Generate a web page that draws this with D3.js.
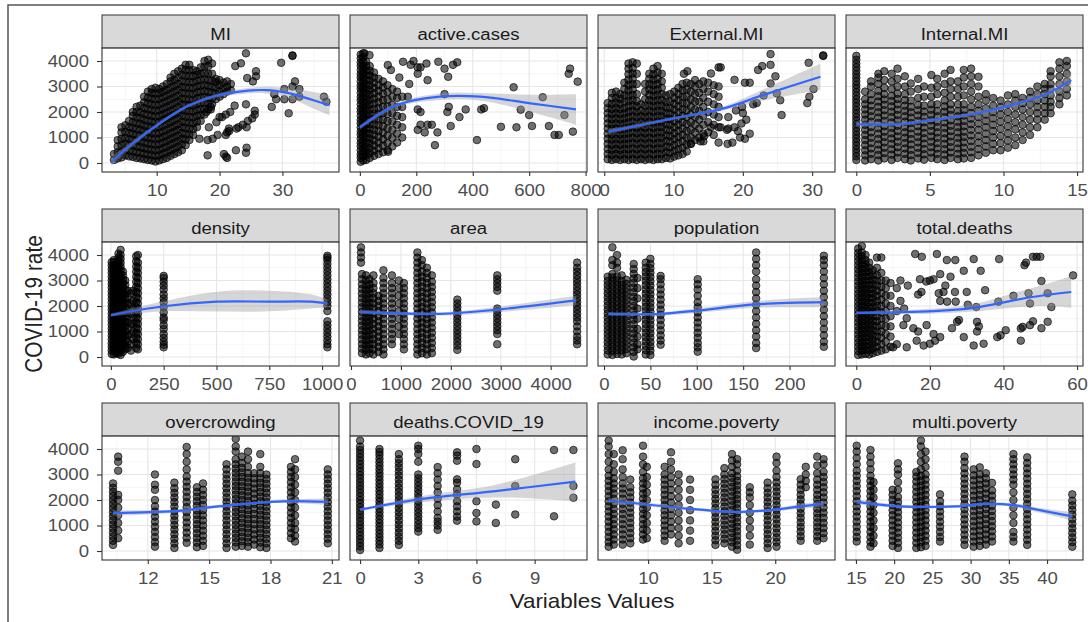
<!DOCTYPE html>
<html>
<head>
<meta charset="utf-8">
<script src="https://cdn.jsdelivr.net/npm/d3@7"></script>
<style>
  body { margin: 0; background: #fff; }
  text { font-family: "Liberation Sans", Arial, sans-serif; }
</style>
</head>
<body>
<script>
// ---- data ----
var facetNames = ["MI", "active.cases", "External.MI", "Internal.MI",
                  "density", "area", "population", "total.deaths",
                  "overcrowding", "deaths.COVID_19", "income.poverty", "multi.poverty"];

var xDomains = [[1.3, 39], [-35, 805], [-0.9, 33.3], [-0.7, 15.4],
                [-42, 1080], [-20, 4728], [-6.5, 249], [-2.8, 61.6],
                [9.76, 21.35], [-0.52, 11.7], [6.06, 24.7], [13.7, 44.7]];

var xTicks = [[10, 20, 30], [0, 200, 400, 600, 800], [0, 10, 20, 30], [0, 5, 10, 15],
              [0, 250, 500, 750, 1000], [0, 1000, 2000, 3000, 4000], [0, 50, 100, 150, 200], [0, 20, 40, 60],
              [12, 15, 18, 21], [0, 3, 6, 9], [10, 15, 20], [15, 20, 25, 30, 35, 40]];

var yTicks = [0, 1000, 2000, 3000, 4000];

// points: [x, [y, y, ...]]
var miPts = [
[3.2,[120,350]],[3.8,[180,420,650,900]],[4.4,[220,450,700,950,1200,1400]],[5.0,[300,520,760,980,1220,1480]],
[5.6,[260,480,720,940,1180,1400,1650]],[6.2,[240,460,690,910,1150,1370,1600,1850,2000]],
[6.8,[200,420,650,880,1100,1330,1560,1790,2000,2200]],[7.4,[180,400,620,850,1080,1300,1530,1760,1980,2250]],
[8.0,[150,360,580,800,1020,1250,1470,1700,1930,2150,2380,2600]],
[8.6,[120,330,550,770,990,1210,1440,1660,1890,2110,2340,2560,2800]],
[9.2,[100,310,520,740,960,1180,1400,1630,1850,2080,2300,2530,2750,2900]],
[9.8,[60,280,500,720,940,1160,1380,1600,1820,2050,2270,2500,2720,2950]],
[10.4,[100,300,520,740,960,1180,1400,1620,1850,2070,2290,2520,2740,2900]],
[11.0,[150,360,580,800,1020,1240,1460,1690,1910,2130,2360,2580,2800,3000]],
[11.6,[200,420,640,860,1080,1300,1530,1750,1970,2200,2420,2650,2870,3100]],
[12.2,[280,500,720,940,1160,1380,1600,1830,2050,2270,2500,2720,2950,3200,3350]],
[12.8,[350,570,790,1010,1230,1450,1680,1900,2120,2350,2570,2800,3020,3250,3500]],
[13.4,[420,640,860,1080,1300,1520,1750,1970,2190,2420,2640,2870,3100,3350,3600]],
[14.0,[500,730,950,1170,1400,1620,1850,2070,2300,2520,2750,2980,3200,3450,3700]],
[14.6,[700,920,1140,1370,1600,1820,2050,2280,2500,2730,2960,3190,3420,3650,3850]],
[15.2,[900,1120,1350,1580,1800,2030,2260,2490,2720,2950,3180,3410,3640,3850]],
[15.8,[1100,1330,1560,1790,2020,2250,2480,2710,2940,3170,3400,3650]],
[16.4,[1400,1620,1850,2080,2310,2540,2770,3000,3230,3460,3600]],
[17.0,[1650,1880,2110,2340,2570,2800,3030,3260,3500,3750]],
[17.6,[1900,2130,2360,2590,2820,3050,3280,3520,3780,4000]],
[18.2,[2100,2330,2560,2790,3020,3250,3500,3800,4050]],
[18.8,[2300,2530,2760,2990,3220,3500,3900]],[19.4,[2500,2720,2950,3180,3300]],
[20.0,[2600,2820,3050,3250,1800]],[20.6,[2700,2920,3150]],[21.2,[2800,3000,3200,1200,200]],[21.8,[2850,3100]],
[16.8,[950]],[17.9,[2000]],[18.6,[2100,2200]],[18.3,[1400]],[19.5,[1600]],[18.9,[950]],[18.1,[900,300]],
[19.7,[1100]],[21.0,[1100,1900,250]],[21.5,[1250,1350]],[20.7,[350]],[20.4,[1800]],[21.7,[2000]],
[22.4,[2250]],[22.6,[500]],[22.7,[1350]],[23.0,[1400]],[23.7,[1500]],[24.3,[1400,600]],[24.2,[400,2300,4300]],
[24.5,[1650]],[25.2,[1750]],[25.6,[1900,2050]],[23.4,[3910]],[22.5,[3800]],[24.4,[3330]],[25.8,[3400,3600]],
[25.3,[3200]],[28.3,[2200]],[28.7,[2700]],[29.0,[2500]],[29.8,[3930]],[30.3,[2500,2900]],[31.0,[1950]],
[31.6,[2500,3000,4200,4220]],[32.0,[3200]],[32.7,[2600,2900]],[36.6,[2600]],[37.0,[2400]]
];

var acPts = [
[3,[50,210,340,500,660,790,950,1110,1240,1400,1560,1690,1850,2010,2140,2300,2460,2590,2750,2910,3040,3200,3360,3490,3650,3810,3940,4100,4250]],
[12,[100,260,410,560,720,870,1030,1180,1340,1490,1650,1800,1960,2110,2270,2420,2580,2730,2890,3040,3200,3350,3510,3660,3820,3970,4150,4300]],
[22,[120,300,470,640,820,990,1170,1340,1520,1690,1870,2040,2220,2390,2570,2740,2920,3090,3270,3440,3620,3800,3980]],
[35,[200,390,580,770,960,1150,1340,1530,1720,1910,2100,2290,2480,2670,2860,3050,3240,3430,3620,3800]],
[50,[280,480,690,890,1100,1300,1510,1710,1920,2120,2330,2530,2740,2940,3150,3350,3550]],
[66,[350,580,800,1030,1250,1480,1700,1930,2150,2380,2600,2830,3050,3300]],
[82,[420,680,930,1190,1440,1700,1950,2210,2460,2720,2970,3200]],
[98,[500,780,1070,1350,1640,1920,2210,2490,2780,3050]],
[115,[650,980,1300,1630,1950,2280,2600,2900]],
[132,[800,1150,1500,1850,2200,2550,2800]],
[150,[1000,1400,1800,2200,2600]],
[16,[4300]],[34,[4230]],[99,[3840]],[110,[3650]],[153,[3970]],[180,[3850]],[190,[4000]],
[205,[3750,3500,2100,1300]],[215,[3750,2000,1500]],[236,[3900]],[278,[3970]],[300,[3700,2700]],
[313,[3380]],[330,[3850]],[345,[3950]],[240,[3250,1500]],[230,[1200]],[140,[3350]],[545,[2970]],
[648,[2580]],[740,[3500]],[745,[3700]],[772,[3190]],[725,[1880]],[755,[1230]],[690,[1100]],[705,[1100]],
[670,[1450]],[610,[1450]],[600,[1880]],[570,[2090]],[555,[1400]],[500,[1420]],[415,[900]],[430,[2100]],
[440,[2150]],[353,[1800]],[375,[2100]],[322,[1450]],[310,[2000]],[315,[2200]],[275,[1200]],[266,[700]],
[255,[1500]],[100,[440]],[170,[2600]],[175,[3100]]
];

var emPts = [
[0.5,[150,350,550,750,950,1150,1350,1550,1750,1950,2150,2350]],
[1.1,[120,320,520,720,920,1120,1320,1520,1720,1920,2120,2320,2550,2750]],
[1.7,[150,350,550,750,950,1150,1350,1550,1750,1950,2150,2350,2550,2800]],
[2.3,[120,320,520,720,920,1120,1320,1520,1720,1920,2120,2320,2520,2700]],
[2.9,[150,350,550,750,950,1150,1350,1550,1750,1950,2150,2400,2650,2900,3150]],
[3.5,[120,330,540,750,960,1170,1380,1590,1800,2010,2220,2430,2640,2850,3060,3270,3480,3700,3900]],
[4.1,[150,360,570,780,990,1200,1410,1620,1830,2040,2250,2460,2670,2880,3090,3300,3510,3720,3950]],
[4.7,[120,330,540,750,960,1170,1380,1590,1800,2010,2220,2430,2700,3100,3500,3900]],
[5.3,[150,360,570,780,990,1200,1410,1620,1830,2050,2300]],
[5.9,[120,330,540,750,960,1170,1380,1590,1800,2010,2250,2500,2800,3100]],
[6.5,[150,360,570,780,990,1200,1410,1620,1830,2040,2250,2460,2670,2880,3090,3300,3500]],
[7.1,[120,330,540,750,960,1170,1380,1590,1800,2010,2220,2430,2640,2850,3060,3270,3480,3700]],
[7.7,[150,360,570,780,990,1200,1410,1620,1830,2040,2250,2460,2670,2880,3090,3300,3550,3800]],
[8.3,[150,360,570,780,990,1200,1410,1620,1830,2040,2250,2460,2700,2950,3200,3500]],
[8.9,[200,420,640,860,1080,1300,1520,1740,1960,2180,2400,2650]],
[9.5,[180,400,620,840,1060,1280,1500,1720,1940,2160,2400,2700]],
[10.1,[250,480,710,940,1170,1400,1630,1860,2090,2320,2550,2800]],
[10.7,[300,540,780,1020,1260,1500,1740,1980,2220,2460,2700,2950]],
[11.3,[350,600,850,1100,1350,1600,1850,2100,2350,2600,2850,3100]],
[11.9,[450,720,990,1260,1530,1800,2070,2340,2610,2880,3150]],
[12.5,[750,1000,1300,1600,1900,2200,2500,2800,3100]],
[13.1,[900,1200,1500,1800,2100,2400,2700,3000,3250]],
[13.7,[1000,1350,1700,2050,2400,2750,3100]],
[14.3,[850,1150,1500,1850,2200,2550,2900,3200]],
[15.0,[1200,1600,2000,2400,2800,3150]],
[15.8,[1100,1500,1900,2300,2700,3050]],
[16.5,[1400,1800,2200,2600,3000,3750,800]],
[24,[4270,3850,3120]],[31.6,[4200,4220]],[29.5,[3930]],[22.2,[3650]],[22.8,[3800]],[24.7,[3400]],
[20.3,[3150,950]],[21,[3150,1150]],[18.8,[3260,1400]],[16.8,[3750,1400]],[15.4,[3510,1400]],[12,[3600]],
[11.5,[3500]],[24.9,[2730]],[23,[2650]],[25.4,[2460]],[22,[2350]],[29.3,[2350]],[29.6,[2600]],[30.2,[2900]],
[25.6,[1880]],[20,[1960]],[20.5,[1700]],[19.3,[1250]],[19.8,[1550]],[17.9,[1350,1800]],[19.6,[1000]],
[17.8,[750]],[18.5,[800]],[17.7,[1300]],[13.9,[850]],[14.4,[1050]],[12.5,[750]],[19,[2060]],[19.9,[2200]],
[21.5,[2300]]
];

var imPts = [
[0,[120,260,400,540,680,820,960,1100,1240,1380,1520,1660,1800,1940,2080,2220,2360,2500,2640,2780,2920,3060,3200,3340,3480,3620,3760,3900,4050,4200]],
[0.6,[100,300,500,700,900,1100,1300,1500,1700,1900,2100,2300,2500,2800]],
[1.0,[150,360,570,780,990,1200,1410,1620,1830,2040,2250,2460,2700,3000,3200]],
[1.5,[100,310,520,730,940,1150,1360,1570,1780,1990,2200,2410,2620,2830,3100,3350,3500]],
[1.9,[180,390,600,810,1020,1230,1440,1650,1860,2070,2280,2490,2700,2950,3250,3600]],
[2.4,[120,330,540,750,960,1170,1380,1590,1800,2010,2220,2430,2640,2900,3200,3500]],
[2.8,[200,410,620,830,1040,1250,1460,1670,1880,2090,2300,2510,2720,3000,3300,3700]],
[3.3,[150,360,570,780,990,1200,1410,1620,1830,2040,2250,2460,2700,3000,3400]],
[3.7,[100,310,520,730,940,1150,1360,1570,1780,1990,2200,2450,2800,3120]],
[4.2,[180,390,600,810,1020,1230,1440,1650,1860,2070,2280,2550,2900,3300]],
[4.6,[130,340,550,760,970,1180,1390,1600,1810,2020,2250,2600,3000]],
[5.1,[200,410,620,830,1040,1250,1460,1670,1880,2090,2300,2600,2950,3450]],
[5.5,[150,360,570,780,990,1200,1410,1620,1830,2040,2300,2700,3000,3300]],
[6.0,[120,330,540,750,960,1170,1380,1590,1800,2010,2220,2450,2750,3100,3500]],
[6.4,[200,410,620,830,1040,1250,1460,1670,1880,2090,2300,2600,2900,3200,3650]],
[6.9,[150,360,570,780,990,1200,1410,1620,1830,2040,2300,2600,2900,3200]],
[7.3,[180,390,600,810,1020,1230,1440,1650,1860,2070,2300,2650,3000,3350,3650]],
[7.8,[200,420,640,860,1080,1300,1520,1740,1960,2200,2500,2800,3100,3400,3700]],
[8.3,[300,550,800,1050,1300,1550,1800,2050,2300,2600,3000,3380]],
[8.8,[400,650,900,1150,1400,1650,1900,2150,2450,2700]],
[9.3,[500,750,1000,1250,1500,1750,2000,2250,2550]],
[9.8,[500,780,1060,1340,1620,1900,2180,2450]],
[10.3,[600,880,1160,1440,1720,2000,2300,2650]],
[10.8,[700,1000,1320,1600,1900,2200,2450,2700]],
[11.3,[900,1200,1500,1800,2100,2350,2550]],
[11.8,[1100,1400,1700,2000,2300,2550,2800]],
[12.3,[1400,1700,1950,2200,2450,2700,3000]],
[12.8,[1700,1950,2200,2450,2700,2900,3100]],
[13.2,[1950,2200,2400,2650,2900,3100,3400,3600]],
[13.8,[2300,2550,2800,3100,3400,3700,3950]],
[14.3,[2650,2900,3200,3500,3800,4000]]
];

var dnPts = [
[4,[120,260,400,540,690,830,980,1120,1270,1410,1560,1700,1850,1990,2140,2280,2430,2570,2720,2860,3010,3150,3300,3440,3590,3720]],
[14,[100,240,380,530,670,820,960,1110,1250,1400,1540,1690,1830,1980,2120,2270,2410,2560,2700,2850,2990,3140,3280,3430,3570,3720,3800]],
[25,[150,290,430,580,720,870,1010,1160,1300,1450,1590,1740,1880,2030,2170,2320,2460,2610,2750,2900,3040,3190,3330,3480,3620]],
[36,[130,270,410,560,700,850,990,1140,1280,1430,1570,1720,1860,2010,2150,2300,2440,2590,2730,2880,3020,3170,3310,3460,3610,3750,3900,4050]],
[46,[80,220,360,510,650,800,940,1090,1230,1380,1520,1670,1810,1960,2100,2250,2390,2540,2680,2830,2970,3120,3260,3410,3550,3700,3850,4000,4200]],
[57,[200,350,500,650,800,950,1100,1250,1400,1550,1700,1850,2000,2150,2300,2450,2600,2750,2900,3050,3200,3350]],
[68,[300,480,660,840,1020,1200,1380,1560,1740,1920,2100,2280,2460,2640,2820,3000]],
[80,[350,600,850,1100,1350,1600,1850,2100,2350,2600]],
[95,[250,500,900,1300,1700,2100,2500]],
[105,[700,1000,1300,1600,1900,2200,2600]],
[120,[350,550,750,950,1150,1350,1550,1750,1950,2150,2350,2550,2750,2950,3150,3350,3550,3750,3950]],
[128,[300,500,700,900,1100,1300,1500,1700,1900,2100,2300,2500,2700,2900,3100,3300,3500,3700,4000]],
[250,[380,480,600,750,900,1100,1250,1450,1550,1750,1950,2150,2300,2450,2650,2800,2950,3100,3180]],
[1025,[380,500,650,800,950,1100,1250,1400,1800,2000,2150,2300,2450,2600,2750,2900,3050,3200,3350,3500,3650,3800,3900,3970]]
];

var arPts = [
[200,[3700,3900,4100,4300]],
[220,[150,330,510,690,870,1050,1230,1410,1590,1770,1950,2130,2310,2490,2670,2850,3050,3250]],
[300,[100,280,460,640,820,1000,1180,1360,1540,1720,1900,2080,2260,2440,2620,2800,3000,3200]],
[370,[150,330,510,690,870,1050,1230,1410,1590,1770,1950,2130,2310,2490,2670,2850,3050]],
[450,[100,300,500,700,900,1100,1300,1500,1700,1900,2100,2300,2500,2700,2900,3200]],
[550,[200,400,600,800,1000,1200,1400,1600,1800,2000,2200,2400]],
[650,[100,300,500,700,900,1100,1300,1500,1700,1900,2100,2300,2500,2700,2900,3100,3400]],
[820,[500,700,900,1100,1300,1500,1700,1900,2100,2300,2500,2700,2900,3200]],
[960,[900,1200,1500,1800,2100,2400,2700,3000]],
[1060,[300,500,700,900,1100,1300,1500,1700,1900,2100,2300,2500,2700,2900]],
[1330,[100,300,500,700,900,1100,1300,1500,1700,1900,2100,2300,2500,2700,2900,3100,3300,3500,3700,3900,4100]],
[1420,[150,350,550,750,950,1150,1350,1550,1750,1950,2150,2350,2550,2750,2950,3150,3350,3600,3800]],
[1520,[100,300,500,700,900,1100,1300,1500,1700,1900,2100,2300,2500,2700,2900,3100,3300,3500]],
[1620,[150,350,550,750,950,1150,1350,1550,1750,1950,2150,2350,2550,2750,2950,3200]],
[2130,[280,450,600,750,900,1050,1200,1350,1500,1650,1800,1950,2100,2250]],
[2930,[500,900,1050,1200,1350,1500,1650,1800,1900,2600,2750,2900,3050,3200]],
[4530,[500,650,800,1000,1200,1400,1550,1700,1850,2000,2150,2300,2450,2600,2750,2900,3050,3200,3350,3500,3700]]
];

var poPts = [
[4,[100,260,420,580,740,900,1060,1220,1380,1540,1700,1860,2020,2180,2340,2500,2660,2820,2980,3150]],
[9,[80,240,400,560,720,880,1040,1200,1360,1520,1680,1840,2000,2160,2320,2480,2640,2800,2960,3120,3250,3600,3800,4300]],
[14,[120,280,440,600,760,920,1080,1240,1400,1560,1720,1880,2040,2200,2360,2520,2680,2840,3000,3160,3500,3700,4000]],
[19,[100,260,420,580,740,900,1060,1220,1380,1540,1700,1860,2020,2180,2340,2500,2660,2820,2980,3200]],
[24,[150,310,470,630,790,950,1110,1270,1430,1590,1750,1910,2070,2230,2390,2550,2710,2870,3030]],
[32,[20,200,380,560,740,920,1100,1280,1460,1640,1820,2000,2180,2360,2540,2720,2900,3080,3260,3450,3650]],
[36,[300,500,800,1100,1500,1900,2300,2700,3100]],
[45,[100,270,440,610,780,950,1120,1290,1460,1630,1800,1970,2140,2310,2480,2650,2820,2990,3160,3330,3500,3700]],
[50,[80,250,420,590,760,930,1100,1270,1440,1610,1780,1950,2120,2290,2460,2630,2800,2970,3140,3310,3480,3650,3850]],
[61,[480,650,850,1050,1250,1450,1650,1850,2050,2250,2450,2650,2850,3050,3180]],
[101,[210,380,550,750,950,1150,1350,1550,1750,1950,2150,2400,2650,2850,3050]],
[164,[350,550,800,1050,1300,1550,1800,2050,2300,2550,2800,3050,3350,3600,3850,4100]],
[237,[400,600,850,1100,1350,1600,1850,2100,2350,2600,2850,3100,3350,3600,3800,3970]]
];

var tdPts = [
[0.5,[80,240,400,560,720,880,1040,1200,1360,1520,1680,1840,2000,2160,2320,2480,2640,2800,2960,3120,3280,3440,3600,3760,3920,4080,4250]],
[1.5,[100,260,420,580,740,900,1060,1220,1380,1540,1700,1860,2020,2180,2340,2500,2660,2820,2980,3140,3300,3460,3620,3780,3940,4100,4350]],
[2.5,[120,280,440,600,760,920,1080,1240,1400,1560,1720,1880,2040,2200,2360,2520,2680,2840,3000,3160,3320,3480,3640,3800,4000]],
[3.5,[100,270,440,610,780,950,1120,1290,1460,1630,1800,1970,2140,2310,2480,2650,2820,2990,3160,3330,3500,3700]],
[4.5,[150,330,510,690,870,1050,1230,1410,1590,1770,1950,2130,2310,2490,2670,2850,3030,3210,3400]],
[5.6,[200,400,600,800,1000,1200,1400,1600,1800,2000,2200,2400,2600,2800,3000,3200,3500,3900]],
[6.8,[250,500,750,1000,1250,1500,1750,2000,2250,2500,2750,3000,3300,3900]],
[8,[300,600,900,1200,1500,1800,2100,2400,2700,3000]],
[9.3,[400,800,1200,1600,2000,2400,2900]],
[16,[4040]],[17.8,[3930]],[21.9,[4040]],[24.6,[3800]],[26.9,[3800]],[31.9,[3840,450]],[38.8,[3840]],
[45.7,[3600]],[46.1,[3700]],[48,[3930,1400]],[49,[3930]],[50,[3930]],[58.9,[3200]],[17.3,[3050]],[19,[2960]],
[20,[3000,520]],[21,[3050,900]],[22.8,[3250,780,2200]],[25.6,[3150]],[29.2,[3380,780]],[33.8,[3380]],
[50.3,[2980,1130]],[23.7,[2550]],[24.2,[2800]],[16.8,[2450,1000]],[17.7,[2550]],[22.4,[2500]],[26.8,[2550]],
[30,[2550]],[35,[2620]],[24.7,[2170]],[27,[2170]],[30.3,[2050]],[32.6,[1960]],[38.6,[2170]],[42.7,[2400]],
[46.8,[2500]],[53,[1960]],[52,[2500,1380]],[47.2,[2100,1250]],[12.8,[1250]],[13.7,[1520,380]],[15.5,[1130]],
[19.1,[1250]],[21.4,[640]],[26,[1130]],[27.4,[1380]],[27.9,[1450]],[32.8,[1000,1380]],[33.3,[1200]],
[34.6,[520]],[38.3,[780]],[39.2,[850]],[40.6,[1050]],[44.7,[1120,640]],[45.2,[1180]],[18.3,[450]],
[10,[380]],[11,[500,1800,2700]],[16.4,[640]],[12,[2200,3000]],[14,[2800]],[13,[1900]]
];

var ocPts = [
[10.3,[240,400,560,720,880,1040,1200,1360,1520,1680,1840,2000,2160,2320,2480,2650]],
[10.55,[500,800,1100,1400,1700,2000,2200,3150,3500,3700]],
[12.35,[170,350,550,750,950,1150,1350,1550,1750,2000,2400,2600,3000]],
[13.3,[120,300,480,660,840,1020,1200,1380,1560,1740,1920,2100,2280,2460,2680]],
[13.9,[320,520,720,920,1120,1320,1520,1720,1920,2120,2320,2520,2720,2920,3200,3500,3800,4080]],
[14.4,[150,330,510,690,870,1050,1230,1410,1590,1770,1950,2130,2310,2500]],
[14.7,[200,400,600,800,1000,1200,1400,1600,1800,2000,2200,2400,2650]],
[15.85,[120,300,480,660,840,1020,1200,1380,1560,1740,1920,2100,2280,2460,2640,2820,3000,3200,3400]],
[16.3,[170,340,510,680,850,1020,1190,1360,1530,1700,1870,2040,2210,2380,2550,2720,2890,3060,3230,3400,3600,3900,4100,4400]],
[16.6,[200,380,560,740,920,1100,1280,1460,1640,1820,2000,2180,2360,2540,2720,2900,3080,3260,3450,3700]],
[16.9,[170,350,530,710,890,1070,1250,1430,1610,1790,1970,2150,2330,2510,2690,2870,3050,3300,3600,3900]],
[17.2,[250,450,650,850,1050,1250,1450,1650,1850,2050,2250,2450,2650,2850,3050]],
[17.5,[150,330,510,690,870,1050,1230,1410,1590,1770,1950,2130,2310,2490,2670,2850,3050,3300,3800]],
[17.8,[120,300,480,660,840,1020,1200,1380,1560,1740,1920,2100,2280,2460,2640,2820,3000]],
[19.0,[500,700,900,1100,1300,1500,1700,1900,2100,2300,2500,2700,2900,3100,3300]],
[19.2,[370,600,850,1100,1400,1700,2000,2300,2600,2900,3200,3600]],
[20.8,[300,480,660,840,1020,1200,1380,1560,1740,1920,2100,2280,2460,2640,2820,3000,3200]]
];

var dcPts = [
[0,[40,180,320,460,600,740,880,1020,1160,1300,1440,1580,1720,1860,2000,2140,2280,2420,2560,2700,2840,2980,3120,3260,3400,3540,3680,3820,3960,4100,4330]],
[1,[120,260,400,540,680,820,960,1100,1240,1380,1520,1660,1800,1940,2080,2220,2360,2500,2640,2780,2920,3060,3200,3340,3480,3620,3760,3880,4000]],
[2,[240,400,560,720,880,1040,1200,1360,1520,1680,1840,2000,2160,2320,2480,2640,2800,2960,3120,3280,3440,3600,3800]],
[3,[760,900,1050,1200,1350,1500,1650,1800,1950,2100,2250,2400,2550,2700,2850,3000,3500,3800,4000,4130]],
[4,[830,1000,1150,1300,1550,1800,2050,2300,2550,2800,3050,3290]],
[5,[1190,1350,1550,1750,1950,2220,2420,2680,2810,3540,3740,3870]],
[6,[1160,1490,1950,3410,4000]],[7,[1100,1820]],[8,[1430,2550,3600]],[10,[1360,3960]],[11,[2090,2550,3960]]
];

var ipPts = [
[6.9,[170,350,550,750,950,1150,1350,1550,1750,1950,2150,2350,2550,2750,2950,3200,3500,3800,4100,4330]],
[7.3,[250,450,650,850,1050,1250,1450,1650,1850,2050,2250,2450,2650,2850,3100,3400,3800]],
[8.0,[250,450,650,850,1050,1250,1450,1650,1850,2050,2250,2450,2650,2900,3200,3600,3950]],
[8.6,[300,500,700,900,1100,1300,1500,1700,1900,2100,2300,2500,2800]],
[9.6,[450,650,850,1050,1250,1450,1650,1850,2050,2250,2450,2650,2850,3100,3400,3700,4130]],
[9.9,[500,800,1100,1400,1700,2000,2300,2600,2900,3300]],
[11.3,[400,600,800,1000,1200,1400,1600,1800,2000,2200,2400,2600,2800,3000,3300]],
[11.8,[650,900,1150,1400,1650,1900,2150,2400,2650,2900,3200,3500,3870]],
[12.4,[300,600,900,1200,1500,1800,2100,2400,2700,3000]],
[13.3,[400,800,1200,1600,2000,2400,2800]],
[15.3,[240,420,600,780,960,1140,1320,1500,1680,1860,2040,2220,2400,2600,2810]],
[16.0,[300,480,660,840,1020,1200,1380,1560,1740,1920,2100,2280,2460,2640,2820,3000,3250]],
[16.6,[170,350,530,710,890,1070,1250,1430,1610,1790,1970,2150,2330,2510,2690,2870,3050,3300,3550,3800]],
[17.0,[50,230,410,590,770,950,1130,1310,1490,1670,1850,2030,2210,2390,2570,2750,2930,3150,3400,3600]],
[18.0,[250,600,900,1200,1500,1800,2100,2300,2500]],
[19.4,[120,300,480,660,840,1020,1200,1380,1560,1740,1920,2100,2280,2460,2680]],
[20.1,[170,350,530,710,890,1070,1250,1430,1610,1790,1970,2150,2330,2510,2690,2900,3150,3450,3700]],
[22.0,[400,580,760,940,1120,1300,1480,1660,1840,2020,2200,2400,2600,2810]],
[22.4,[2500,2750,3000,3300]],
[23.3,[400,580,760,940,1120,1300,1480,1660,1840,2020,2200,2400,2600,2800,3050,3350,3700]],
[23.8,[500,700,900,1100,1300,1500,1700,1900,2100,2300,2500,2700,2900,3100,3400,3600]]
];

var mpPts = [
[15.1,[370,550,750,950,1150,1350,1550,1750,1950,2150,2350,2550,2750,2950,3150,3400,3650,3900,4130]],
[16.9,[170,350,550,750,950,1150,1350,1550,1750,1950,2150,2350,2550,2750,2950,3200,3450,3700,3960]],
[17.3,[300,600,900,1200,1500,1800,2100,2400,2700]],
[19.8,[200,400,600,800,1000,1200,1400,1600,1800,2000,2200,2400]],
[20.5,[120,320,520,720,920,1120,1320,1520,1720,1920,2120,2400,2700,3000,3200,3440]],
[22.9,[120,320,520,720,920,1120,1320,1520,1720,1920,2120,2320,2520,2720,2920,3100]],
[23.5,[150,350,550,750,950,1150,1350,1550,1750,1950,2150,2350,2550,2750,2950,3200,3500,3800,4100,4330]],
[24.1,[200,400,600,800,1000,1200,1400,1600,1800,2000,2200,2400,2600,2800,3000,3300,3600,3900]],
[26,[370,550,750,950,1150,1350,1550,1750,1950,2220]],
[29.2,[240,440,640,840,1040,1240,1440,1640,1840,2040,2240,2440,2640,2840,3040,3250,3500,3700]],
[30.4,[170,370,570,770,970,1170,1370,1570,1770,1970,2170,2370,2570,2770,2970,3200]],
[31.2,[200,400,600,800,1000,1200,1400,1600,1800,2000,2200,2400,2600,2800,3000,3280]],
[32,[250,450,650,850,1050,1250,1450,1650,1850,2050,2250,2450,2650,2850,3050]],
[32.8,[370,570,770,970,1170,1370,1570,1770,1970,2170,2370,2670]],
[35.6,[370,550,750,1100,1400,1700,2000,2300,2600,2800,3000,3200,3400,3600,3800]],
[37.4,[240,440,640,840,1040,1240,1440,1640,1840,2040,2240,2440,2640,2840,3040,3240,3450,3670]],
[43.3,[170,350,530,710,890,1070,1250,1430,1610,1790,1970,2220]]
];

// smooth fit: [x, fit, lower, upper]
var miFit = [[2.8,50,-120,220],[6.2,770,660,880],[10.5,1560,1490,1630],[14.7,2210,2150,2270],[18.9,2600,2530,2670],
             [23.2,2800,2700,2900],[27.4,2860,2730,2990],[31.2,2730,2540,2920],[34.8,2470,2150,2790],[37.5,2270,1880,2640]];
var acFit = [[0,1400,1320,1480],[130,2270,2180,2360],[284,2600,2470,2730],[427,2600,2450,2750],[605,2340,2000,2680],[766,2100,1500,2700]];
var emFit = [[0.6,1230,1130,1330],[10,1750,1700,1800],[17.2,2140,2060,2220],[23,2670,2450,2890],[31.2,3380,2860,3900]];
var imFit = [[0,1530,1420,1640],[3,1530,1460,1600],[5.2,1690,1620,1760],[8.2,1950,1870,2030],[10.96,2340,2250,2430],[13,2730,2600,2860],[14.6,3250,2950,3550]];
var dnFit = [[0,1640,1580,1700],[250,1990,1790,2190],[500,2170,1780,2560],[750,2170,1790,2600],[950,2170,1900,2450],[1025,2100,1950,2250]];
var arFit = [[180,1770,1680,1860],[1790,1690,1630,1750],[2930,1860,1750,1970],[4510,2220,2040,2400]];
var poFit = [[4.7,1690,1620,1760],[60,1690,1630,1750],[100,1820,1730,1910],[163,2060,1930,2190],[237,2150,1950,2350]];
var tdFit = [[0,1730,1680,1780],[21,1800,1700,1900],[32,1930,1780,2080],[43.8,2250,1950,2550],[52,2440,2000,2880],[58.4,2550,1930,3180]];
var ocFit = [[10.3,1490,1380,1600],[13.3,1560,1490,1630],[15.1,1720,1660,1780],[17.2,1880,1830,1930],[18.6,1950,1880,2020],[20.8,1930,1800,2060]];
var dcFit = [[0,1620,1570,1670],[3,2020,1900,2140],[7,2350,2100,2600],[11.1,2720,1950,3470]];
var ipFit = [[6.9,1980,1880,2080],[14.1,1620,1560,1680],[17,1530,1470,1590],[19.9,1620,1560,1680],[22,1750,1660,1840],[23.8,1850,1730,1970]];
var mpFit = [[15.1,1930,1830,2030],[20.8,1750,1690,1810],[28,1750,1700,1800],[32,1850,1790,1910],[35.6,1800,1730,1870],[38.7,1620,1530,1710],[43.3,1360,1200,1520]];

var allPts = [miPts, acPts, emPts, imPts, dnPts, arPts, poPts, tdPts, ocPts, dcPts, ipPts, mpPts];
var allFits = [miFit, acFit, emFit, imFit, dnFit, arFit, poFit, tdFit, ocFit, dcFit, ipFit, mpFit];

// ---- layout ----
var width = 1088, height = 622;
var colX = [102, 350, 598, 846], panelW = 237;
var rowY = [15, 209, 403], stripH = 33, panelH = 124;
var yDomain = [-353, 4510];
var SX = 1.16; // the picture is a little wider than tall

var svg = d3.select("body").append("svg")
	.attr("width", width)
	.attr("height", height);

svg.append("rect").attr("width", width).attr("height", height).attr("fill", "#fff");
svg.append("path")
	.attr("d", "M8,622V5H1088")
	.attr("fill", "none")
	.attr("stroke", "#555")
	.attr("stroke-width", 1.5);

var y = d3.scaleLinear().domain(yDomain).range([panelH, 0]);

function minorTicks(ticks, dom) {
	var step = ticks.length > 1 ? ticks[1] - ticks[0] : 10;
	var out = [];
	for (var v = ticks[0] - step / 2; v <= dom[1]; v += step) {
		if (v >= dom[0]) out.push(v);
	}
	return out;
}

facetNames.forEach(function (name, i) {
	var c = i % 4, r = Math.floor(i / 4);
	var x0 = colX[c], top = rowY[r];
	var x = d3.scaleLinear().domain(xDomains[i]).range([0, panelW]);

	// strip
	svg.append("rect")
		.attr("x", x0).attr("y", top)
		.attr("width", panelW).attr("height", stripH)
		.attr("fill", "#d9d9d9").attr("stroke", "#333").attr("stroke-width", 1);
	svg.append("text")
		.attr("transform", "translate(" + (x0 + panelW / 2) + "," + (top + 25) + ") scale(" + SX + ",1)")
		.attr("text-anchor", "middle")
		.attr("font-size", 16)
		.attr("fill", "#1a1a1a")
		.text(name);

	var g = svg.append("g").attr("transform", "translate(" + x0 + "," + (top + stripH) + ")");

	g.append("clipPath").attr("id", "clip" + i)
		.append("rect").attr("width", panelW).attr("height", panelH);

	// grid
	var grid = g.append("g");
	minorTicks(yTicks, yDomain).forEach(function (v) {
		grid.append("line").attr("x1", 0).attr("x2", panelW).attr("y1", y(v)).attr("y2", y(v))
			.attr("stroke", "#f2f2f2").attr("stroke-width", 0.8);
	});
	minorTicks(xTicks[i], xDomains[i]).forEach(function (v) {
		grid.append("line").attr("y1", 0).attr("y2", panelH).attr("x1", x(v)).attr("x2", x(v))
			.attr("stroke", "#f2f2f2").attr("stroke-width", 0.8);
	});
	yTicks.forEach(function (v) {
		grid.append("line").attr("x1", 0).attr("x2", panelW).attr("y1", y(v)).attr("y2", y(v))
			.attr("stroke", "#e6e6e6").attr("stroke-width", 1.1);
	});
	xTicks[i].forEach(function (v) {
		grid.append("line").attr("y1", 0).attr("y2", panelH).attr("x1", x(v)).attr("x2", x(v))
			.attr("stroke", "#e6e6e6").attr("stroke-width", 1.1);
	});

	// points
	var flat = [];
	allPts[i].forEach(function (col) {
		col[1].forEach(function (v) { flat.push([col[0], v]); });
	});
	g.append("g").attr("clip-path", "url(#clip" + i + ")")
		.selectAll("circle")
		.data(flat)
		.enter().append("circle")
		.attr("cx", function (d) { return x(d[0]); })
		.attr("cy", function (d) { return y(d[1]); })
		.attr("r", 3.8)
		.attr("fill", "#000").attr("fill-opacity", 0.56)
		.attr("stroke", "#000").attr("stroke-opacity", 0.65).attr("stroke-width", 1);

	// smooth + band
	var fit = allFits[i];
	var band = d3.area()
		.x(function (d) { return x(d[0]); })
		.y0(function (d) { return y(d[2]); })
		.y1(function (d) { return y(d[3]); })
		.curve(d3.curveCatmullRom.alpha(0.5));
	var line = d3.line()
		.x(function (d) { return x(d[0]); })
		.y(function (d) { return y(d[1]); })
		.curve(d3.curveCatmullRom.alpha(0.5));
	var fg = g.append("g").attr("clip-path", "url(#clip" + i + ")");
	fg.append("path").attr("d", band(fit)).attr("fill", "#999").attr("fill-opacity", 0.4);
	fg.append("path").attr("d", line(fit)).attr("fill", "none").attr("stroke", "#3366FF").attr("stroke-width", 2.2);

	// panel border
	g.append("rect").attr("width", panelW).attr("height", panelH)
		.attr("fill", "none").attr("stroke", "#333").attr("stroke-width", 1.1);

	// x axis
	var xa = g.append("g")
		.attr("transform", "translate(0," + panelH + ")")
		.call(d3.axisBottom(x).tickValues(xTicks[i]).tickSize(4).tickPadding(9).tickFormat(d3.format("d")));
	xa.select(".domain").remove();
	xa.selectAll("line").attr("stroke", "#333").attr("stroke-width", 1.1);
	xa.selectAll("text")
		.attr("font-size", 16)
		.attr("fill", "#4d4d4d")
		.attr("font-family", "Liberation Sans, Arial, sans-serif")
		.attr("transform", "scale(" + SX + ",1)");

	// y axis, first column only
	if (c === 0) {
		var ya = g.append("g")
			.call(d3.axisLeft(y).tickValues(yTicks).tickSize(5).tickFormat(d3.format("d")));
		ya.select(".domain").remove();
		ya.selectAll("line").attr("stroke", "#333").attr("stroke-width", 1.1);
		ya.selectAll("text")
			.attr("x", 0)
			.attr("font-size", 16)
			.attr("fill", "#4d4d4d")
			.attr("font-family", "Liberation Sans, Arial, sans-serif")
			.attr("transform", "translate(-13,0) scale(" + SX + ",1)");
	}
});

// axis titles
svg.append("text")
	.attr("transform", "translate(592,608) scale(1.12,1)")
	.attr("text-anchor", "middle")
	.attr("font-size", 20)
	.attr("fill", "#222")
	.text("Variables Values");

svg.append("text")
	.attr("transform", "translate(42,304) rotate(-90) scale(1.04,1.16)")
	.attr("text-anchor", "middle")
	.attr("font-size", 20)
	.attr("fill", "#222")
	.text("COVID-19 rate");
</script>
</body>
</html>
